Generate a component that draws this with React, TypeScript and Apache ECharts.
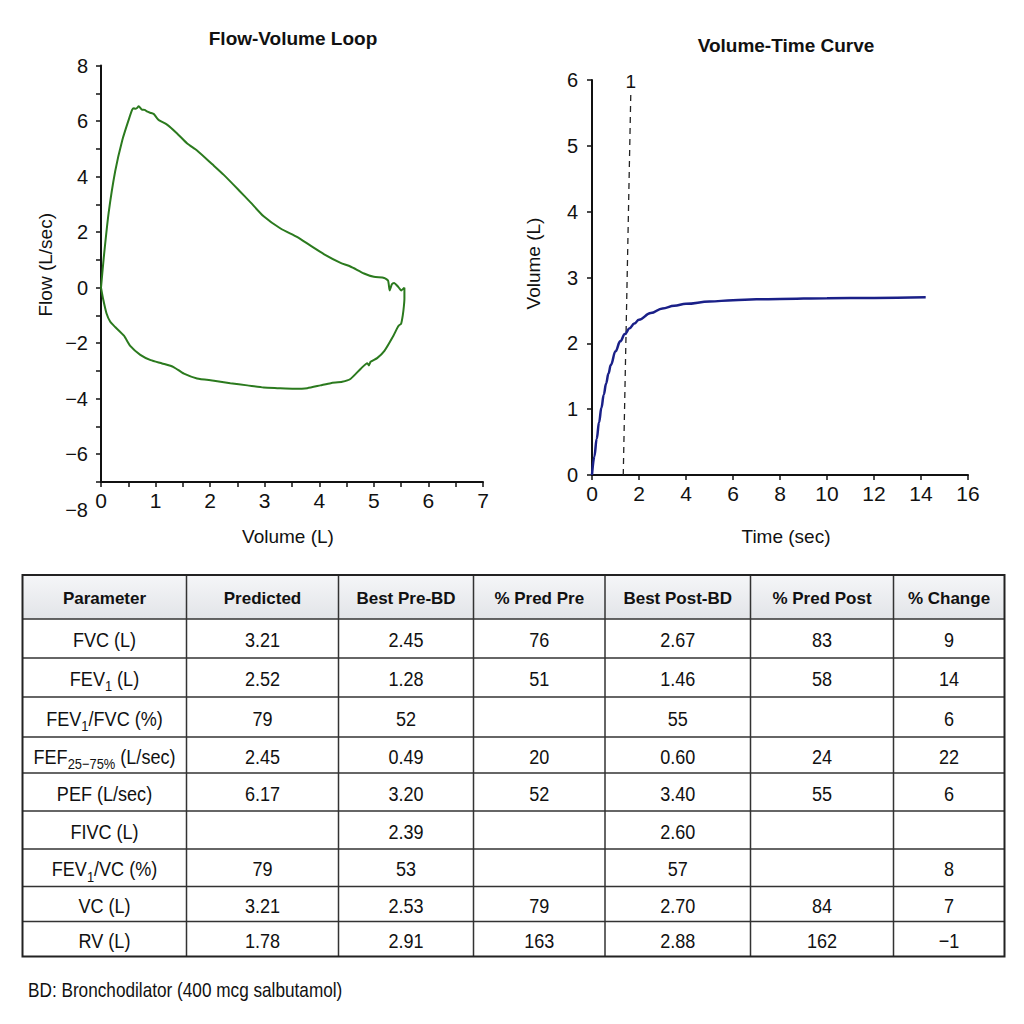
import React, { useEffect, useRef } from "react";
import * as echarts from "echarts";

// ---------- Spirometry traces ----------
// Flow-volume loop: expiratory limb [volume L, flow L/s] from residual volume outward
const expiratoryLimb: [number, number][] = [
  [0, 0], [0.05, 1.07], [0.14, 2.69], [0.26, 4.19], [0.39, 5.31], [0.51, 6.06],
  [0.57, 6.4], [0.6, 6.46], [0.63, 6.44], [0.66, 6.47], [0.69, 6.53], [0.75, 6.41],
  [0.8, 6.4], [0.84, 6.35], [0.9, 6.3], [0.97, 6.25], [1.02, 6.12], [1.06, 6.03],
  [1.21, 5.87], [1.39, 5.56], [1.58, 5.19], [1.76, 4.94], [2.04, 4.44], [2.25, 4.06],
  [2.53, 3.5], [2.74, 3.07], [2.98, 2.57], [3.29, 2.13], [3.6, 1.82], [3.84, 1.51],
  [4.09, 1.2], [4.39, 0.89], [4.57, 0.76], [4.82, 0.51], [5.0, 0.39], [5.19, 0.35],
  [5.26, 0.25], [5.29, -0.1], [5.33, 0.12], [5.37, 0.17], [5.45, 0.02], [5.5, -0.1],
  [5.56, 0.0],
];
// Inspiratory limb back to zero volume
const inspiratoryLimb: [number, number][] = [
  [5.56, -0.4], [5.55, -0.67], [5.53, -1.0], [5.5, -1.3], [5.46, -1.36], [5.43, -1.45],
  [5.34, -1.8], [5.19, -2.29], [5.06, -2.54], [4.94, -2.67], [4.91, -2.8], [4.88, -2.72],
  [4.76, -2.92], [4.57, -3.29], [4.42, -3.39], [4.21, -3.44], [4.02, -3.52], [3.78, -3.62],
  [3.54, -3.64], [3.23, -3.62], [2.98, -3.6], [2.68, -3.52], [2.37, -3.44], [2.07, -3.35],
  [1.76, -3.27], [1.52, -3.1], [1.33, -2.86], [1.12, -2.73], [0.91, -2.61], [0.72, -2.42],
  [0.54, -2.11], [0.42, -1.73], [0.26, -1.42], [0.17, -1.23], [0.1, -0.92], [0.04, -0.42],
  [0, 0],
];

// Volume-time curve
const timeSec = [0, 0.1, 0.2, 0.3, 0.4, 0.5, 0.6, 0.7, 0.8, 1.0, 1.2, 1.4, 1.6, 1.8, 2.0, 2.5, 3, 3.5, 4, 5, 6, 7, 8, 10, 12, 14.2];
const volumeL = [0, 0.28, 0.55, 0.8, 1.02, 1.22, 1.39, 1.54, 1.67, 1.88, 2.03, 2.14, 2.23, 2.3, 2.36, 2.46, 2.53, 2.57, 2.6, 2.635, 2.655, 2.668, 2.675, 2.685, 2.69, 2.7];

// FEV1 marker (dashed guide labelled "1")
const fev1MarkerTime = [1.33, 1.65];
const fev1MarkerVolume = [0, 5.78];
const fev1MarkerLabel = "1";

// Axis ranges and tick labels
const flowAxis = { min: -7, max: 8, step: 1, lowestLabel: -8 };
const loopVolumeAxis = { min: 0, max: 7, step: 1 };
const vtVolumeAxis = { min: 0, max: 6, step: 1 };
const vtTimeAxis = { min: 0, max: 16, step: 2 };

const titles = ["Flow-Volume Loop", "Volume-Time Curve"];
const axisNames = { loopX: "Volume (L)", loopY: "Flow (L/sec)", vtX: "Time (sec)", vtY: "Volume (L)" };

// ---------- Results table ----------
const tableHeaders = ["Parameter", "Predicted", "Best Pre-BD", "% Pred Pre", "Best Post-BD", "% Pred Post", "% Change"];
const parameters = [
  "FVC (L)",
  "FEV{s|1} (L)",
  "FEV{s|1}/FVC (%)",
  "FEF{s|25\u221275%} (L/sec)",
  "PEF (L/sec)",
  "FIVC (L)",
  "FEV{s|1}/VC (%)",
  "VC (L)",
  "RV (L)",
];
const predicted = ["3.21", "2.52", "79", "2.45", "6.17", "", "79", "3.21", "1.78"];
const bestPreBD = ["2.45", "1.28", "52", "0.49", "3.20", "2.39", "53", "2.53", "2.91"];
const predPre = ["76", "51", "", "20", "52", "", "", "79", "163"];
const bestPostBD = ["2.67", "1.46", "55", "0.60", "3.40", "2.60", "57", "2.70", "2.88"];
const predPost = ["83", "58", "", "24", "55", "", "", "84", "162"];
const pctChange = ["9", "14", "6", "22", "6", "", "8", "7", "\u22121"];
const footnote = "BD: Bronchodilator (400 mcg salbutamol)";

// ---------- Layout ----------
const SANS = '"Liberation Sans", Arial, Helvetica, sans-serif';
const LOOP_GRID = { left: 101, top: 65.5, width: 382, height: 416.5 };
const VT_GRID = { left: 592, top: 80, width: 376, height: 395 };
const COL_EDGES = [22.5, 186.5, 338.5, 473.5, 605, 750.5, 893.5, 1004.5];
const ROW_EDGES = [575, 619, 658, 697, 737, 773, 811, 849, 886.5, 921.5, 956.5];
const CONDENSE = 0.86; // horizontal squeeze for the narrow body type

const minus = (v: number) => (v < 0 ? `\u2212${Math.abs(v)}` : `${v}`);

const yTickLabel = { fontFamily: SANS, fontSize: 20, color: "#111" };
const xTickLabel = { fontFamily: SANS, fontSize: 21, color: "#111" };
const axisNameStyle = { fontFamily: SANS, fontSize: 19, color: "#111" };
const axisLineStyle = { color: "#111", width: 2 };
const tickStyle = { show: true, length: 5, lineStyle: { color: "#111", width: 1.5 } };

function buildTable() {
  const els: any[] = [];
  const x0 = COL_EDGES[0];
  const x1 = COL_EDGES[COL_EDGES.length - 1];
  const y0 = ROW_EDGES[0];
  const y1 = ROW_EDGES[ROW_EDGES.length - 1];
  els.push({
    type: "rect",
    shape: { x: x0, y: y0, width: x1 - x0, height: ROW_EDGES[1] - y0 },
    style: {
      fill: new echarts.graphic.LinearGradient(0, 0, 0, 1, [
        { offset: 0, color: "#f5f6f8" },
        { offset: 1, color: "#e2e4e8" },
      ]),
    },
  });
  ROW_EDGES.slice(1, -1).forEach((y) =>
    els.push({ type: "line", shape: { x1: x0, y1: y, x2: x1, y2: y }, style: { stroke: "#333", lineWidth: 1.5 } })
  );
  COL_EDGES.slice(1, -1).forEach((x) =>
    els.push({ type: "line", shape: { x1: x, y1: y0, x2: x, y2: y1 }, style: { stroke: "#333", lineWidth: 1.5 } })
  );
  els.push({
    type: "rect",
    shape: { x: x0, y: y0, width: x1 - x0, height: y1 - y0 },
    style: { fill: "none", stroke: "#222", lineWidth: 2 },
  });

  const colCenter = (c: number) => (COL_EDGES[c] + COL_EDGES[c + 1]) / 2;
  const rowCenter = (r: number) => (ROW_EDGES[r] + ROW_EDGES[r + 1]) / 2;

  tableHeaders.forEach((h, c) =>
    els.push({
      type: "text",
      x: colCenter(c),
      y: rowCenter(0) + 1,
      style: {
        text: h,
        textAlign: "center",
        textVerticalAlign: "middle",
        fontFamily: SANS,
        fontWeight: "bold",
        fontSize: 17,
        fill: "#111",
      },
    })
  );

  const columns = [parameters, predicted, bestPreBD, predPre, bestPostBD, predPost, pctChange];
  columns.forEach((col, c) =>
    col.forEach((val, r) => {
      if (!val) return;
      els.push({
        type: "text",
        x: colCenter(c),
        y: rowCenter(r + 1) + 1,
        scaleX: CONDENSE,
        style: {
          text: val,
          textAlign: "center",
          textVerticalAlign: "middle",
          fontFamily: SANS,
          fontSize: 21,
          lineHeight: 30,
          fill: "#111",
          rich: {
            s: { fontFamily: SANS, fontSize: 15, lineHeight: 12, verticalAlign: "bottom", fill: "#111" },
          },
        },
      });
    })
  );

  els.push({
    type: "text",
    x: 28,
    y: 990,
    scaleX: CONDENSE,
    style: {
      text: footnote,
      textAlign: "left",
      textVerticalAlign: "middle",
      fontFamily: SANS,
      fontSize: 20,
      fill: "#111",
    },
  });
  return els;
}

export default function App() {
  const ref = useRef<HTMLDivElement>(null);

  useEffect(() => {
    if (!ref.current) return;
    const chart = echarts.init(ref.current, undefined, { renderer: "svg", width: 1024, height: 1024 });

    const loopData = [...expiratoryLimb, ...inspiratoryLimb];
    const vtData = timeSec.map((t, i) => [t, volumeL[i]]);
    const markerData = fev1MarkerTime.map((t, i) => [t, fev1MarkerVolume[i]]);

    const pxPerFlow = LOOP_GRID.height / (flowAxis.max - flowAxis.min);
    const lowestLabelY = LOOP_GRID.top + (flowAxis.max - flowAxis.lowestLabel) * pxPerFlow;

    chart.setOption({
      animation: false,
      backgroundColor: "#ffffff",
      grid: [
        { ...LOOP_GRID, outerBoundsMode: "none" },
        { ...VT_GRID, outerBoundsMode: "none" },
      ],
      xAxis: [
        {
          gridIndex: 0,
          type: "value",
          min: loopVolumeAxis.min,
          max: loopVolumeAxis.max,
          interval: loopVolumeAxis.step,
          axisLine: { onZero: false, lineStyle: axisLineStyle },
          axisTick: tickStyle,
          minorTick: { show: true, splitNumber: 2, length: 5, lineStyle: { color: "#111", width: 1.5 } },
          axisLabel: { ...xTickLabel, margin: 8, formatter: (v: number) => minus(v) },
          splitLine: { show: false },
          name: axisNames.loopX,
          nameLocation: "middle",
          nameGap: 45,
          nameTextStyle: { ...axisNameStyle, padding: [0, 8, 0, 0] },
        },
        {
          gridIndex: 1,
          type: "value",
          min: vtTimeAxis.min,
          max: vtTimeAxis.max,
          interval: vtTimeAxis.step,
          axisLine: { onZero: false, lineStyle: axisLineStyle },
          axisTick: tickStyle,
          axisLabel: { ...xTickLabel, margin: 8 },
          splitLine: { show: false },
          name: axisNames.vtX,
          nameLocation: "middle",
          nameGap: 52,
          nameTextStyle: { ...axisNameStyle, padding: [0, 0, 0, 12] },
        },
      ],
      yAxis: [
        {
          gridIndex: 0,
          type: "value",
          min: flowAxis.min,
          max: flowAxis.max,
          interval: flowAxis.step,
          axisLine: { show: true, onZero: false, lineStyle: axisLineStyle },
          axisTick: tickStyle,
          axisLabel: {
            ...yTickLabel,
            margin: 13,
            formatter: (v: number) => (v % 2 === 0 ? minus(v) : ""),
          },
          splitLine: { show: false },
          name: axisNames.loopY,
          nameLocation: "middle",
          nameGap: 46,
          nameTextStyle: { ...axisNameStyle, padding: [0, 0, 0, 18] },
        },
        {
          gridIndex: 1,
          type: "value",
          min: vtVolumeAxis.min,
          max: vtVolumeAxis.max,
          interval: vtVolumeAxis.step,
          axisLine: { show: true, onZero: false, lineStyle: axisLineStyle },
          axisTick: tickStyle,
          axisLabel: { ...yTickLabel, margin: 14 },
          splitLine: { show: false },
          name: axisNames.vtY,
          nameLocation: "middle",
          nameGap: 49,
          nameTextStyle: { ...axisNameStyle, padding: [0, 0, 0, 28] },
        },
      ],
      series: [
        {
          name: "Flow-Volume",
          type: "line",
          xAxisIndex: 0,
          yAxisIndex: 0,
          data: loopData,
          showSymbol: false,
          symbol: "none",
          smooth: 0.2,
          lineStyle: { color: "#2b7a1e", width: 2 },
          z: 3,
        },
        {
          name: "Volume-Time",
          type: "line",
          xAxisIndex: 1,
          yAxisIndex: 1,
          data: vtData,
          showSymbol: false,
          symbol: "none",
          smooth: 0.4,
          smoothMonotone: "x",
          lineStyle: { color: "#1a2088", width: 2.5 },
          z: 3,
        },
        {
          name: "FEV1",
          type: "line",
          xAxisIndex: 1,
          yAxisIndex: 1,
          data: markerData.map((p, i) =>
            i === markerData.length - 1
              ? {
                  value: p,
                  label: {
                    show: true,
                    position: "top",
                    distance: 3,
                    formatter: fev1MarkerLabel,
                    fontFamily: SANS,
                    fontSize: 19,
                    color: "#111",
                  },
                }
              : { value: p }
          ),
          symbol: "circle",
          symbolSize: 0,
          showSymbol: true,
          lineStyle: { color: "#222", width: 1.3, type: [6, 5] },
          z: 2,
        },
      ],
      graphic: [
        {
          type: "text",
          x: 293,
          y: 38,
          style: {
            text: titles[0],
            textAlign: "center",
            textVerticalAlign: "middle",
            fontFamily: SANS,
            fontWeight: "bold",
            fontSize: 19,
            fill: "#111",
          },
        },
        {
          type: "text",
          x: 786,
          y: 45,
          style: {
            text: titles[1],
            textAlign: "center",
            textVerticalAlign: "middle",
            fontFamily: SANS,
            fontWeight: "bold",
            fontSize: 19,
            fill: "#111",
          },
        },
        {
          // lowest flow tick label sits below the volume axis
          type: "text",
          x: LOOP_GRID.left - 13,
          y: lowestLabelY,
          style: {
            text: minus(flowAxis.lowestLabel),
            textAlign: "right",
            textVerticalAlign: "middle",
            fontFamily: SANS,
            fontSize: 20,
            fill: "#111",
          },
        },
        { type: "group", silent: true, children: buildTable() },
      ],
    });

    return () => chart.dispose();
  }, []);

  return (
    <div
      ref={ref}
      style={{ position: "absolute", left: 0, top: 0, width: 1024, height: 1024, background: "#fff" }}
    />
  );
}
